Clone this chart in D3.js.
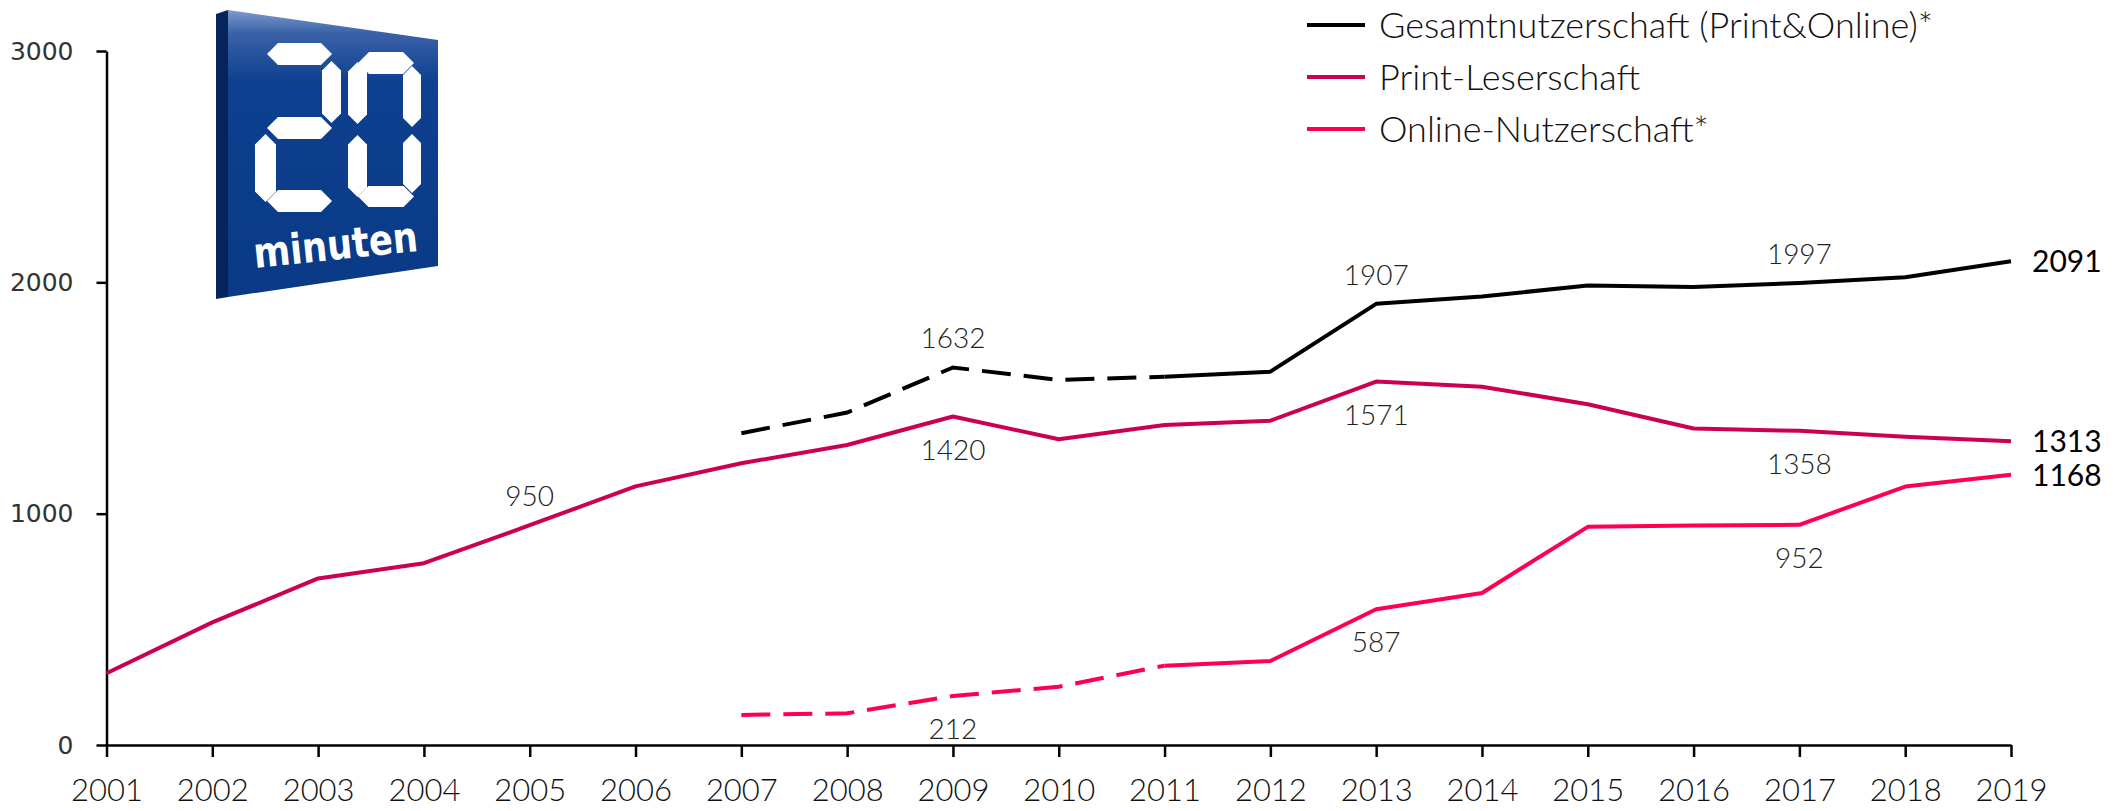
<!DOCTYPE html>
<html>
<head>
<meta charset="utf-8">
<script src="https://cdn.jsdelivr.net/npm/d3@7"></script>
<style>
  html, body { margin: 0; padding: 0; background: #fff; }
  svg { display: block; }
</style>
</head>
<body>
<div id="chart-area"></div>
<script>
// data
const years = [2001, 2002, 2003, 2004, 2005, 2006, 2007, 2008, 2009, 2010,
               2011, 2012, 2013, 2014, 2015, 2016, 2017, 2018, 2019]
const printValues = [310, 530, 720, 786, 950, 1118, 1218, 1297, 1420, 1322,
                     1383, 1402, 1571, 1549, 1473, 1368, 1358, 1333, 1313]
const totalValues = [null, null, null, null, null, null, 1348, 1437, 1632, 1578,
                     1592, 1614, 1907, 1939, 1986, 1980, 1997, 2022, 2091]
const onlineValues = [null, null, null, null, null, null, 130, 137, 212, 252,
                      343, 363, 587, 657, 943, 949, 952, 1117, 1168]
const dashedUntil = 2011   // older values of total / online are estimated (dashed)
const yTicks = [0, 1000, 2000, 3000]
const seriesNames = ["Gesamtnutzerschaft (Print&Online)*", "Print-Leserschaft", "Online-Nutzerschaft*"]

// which values get a label, above or below the line
const labelsAbove = { total: [2009, 2013, 2017], print: [2005], online: [] }
const labelsBelow = { total: [], print: [2009, 2013, 2017], online: [2009, 2013, 2017] }

const colors = { total: "#000000", print: "#cc0052", online: "#ff0050" }

function drawChart() {
    const svgWidth = 2113
    const svgHeight = 811
    const margin = { left: 106.5, right: 102, top: 51, bottom: 66 }

    const svg = d3.select("#chart-area")
        .append("svg")
        .attr("width", svgWidth)
        .attr("height", svgHeight)

    const x = d3.scaleLinear()
        .domain([years[0], years[years.length - 1]])
        .range([margin.left, svgWidth - margin.right])
    const y = d3.scaleLinear()
        .domain([0, 3000])
        .range([svgHeight - margin.bottom, margin.top])

    drawLogo(svg)

    // axes
    const yAxis = svg.append("g")
        .attr("transform", `translate(${margin.left},0)`)
        .call(d3.axisLeft(y).tickValues(yTicks).tickFormat(d3.format("d"))
              .tickSize(10).tickSizeOuter(0).tickPadding(23))
    yAxis.selectAll("path, line").attr("stroke", "#000").attr("stroke-width", 2.5)
    yAxis.selectAll("text")
        .attr("font-family", "DejaVu Sans")
        .attr("font-size", 25)
        .attr("fill", "#333")

    const xAxis = svg.append("g")
        .attr("transform", `translate(0,${y(0)})`)
        .call(d3.axisBottom(x).tickValues(years).tickFormat(d3.format("d"))
              .tickSize(12).tickSizeOuter(0).tickPadding(22))
    xAxis.selectAll("path, line").attr("stroke", "#000").attr("stroke-width", 2.5)
    xAxis.selectAll("text")
        .attr("font-family", "Lato")
        .attr("font-weight", 300)
        .attr("font-size", 31)
        .attr("fill", "#111")

    // lines
    const rows = years.map((yr, i) => ({
        year: yr, print: printValues[i], total: totalValues[i], online: onlineValues[i]
    }))
    const keys = ["total", "print", "online"]

    keys.forEach(key => {
        const pts = rows.filter(d => d[key] != null)
        const line = d3.line().x(d => x(d.year)).y(d => y(d[key]))
        const hasDashed = key !== "print"
        const dashedPart = hasDashed ? pts.filter(d => d.year <= dashedUntil) : []
        const solidPart = hasDashed ? pts.filter(d => d.year >= dashedUntil) : pts

        if (dashedPart.length > 1) {
            svg.append("path")
                .datum(dashedPart)
                .attr("d", line)
                .attr("fill", "none")
                .attr("stroke", colors[key])
                .attr("stroke-width", 4)
                .attr("stroke-dasharray", "29,13")
        }
        svg.append("path")
            .datum(solidPart)
            .attr("d", line)
            .attr("fill", "none")
            .attr("stroke", colors[key])
            .attr("stroke-width", 4)
            .attr("stroke-linejoin", "round")
    })

    // value labels
    const valueOf = (key, yr) => rows.find(d => d.year === yr)[key]
    keys.forEach(key => {
        labelsAbove[key].forEach(yr => {
            svg.append("text")
                .attr("x", x(yr))
                .attr("y", y(valueOf(key, yr)) - 19)
                .attr("text-anchor", "middle")
                .attr("font-family", "Lato").attr("font-weight", 300)
                .attr("font-size", 28).attr("fill", "#222")
                .text(valueOf(key, yr))
        })
        labelsBelow[key].forEach(yr => {
            svg.append("text")
                .attr("x", x(yr))
                .attr("y", y(valueOf(key, yr)) + 43)
                .attr("text-anchor", "middle")
                .attr("font-family", "Lato").attr("font-weight", 300)
                .attr("font-size", 28).attr("fill", "#222")
                .text(valueOf(key, yr))
        })
        // end label
        const last = rows[rows.length - 1]
        svg.append("text")
            .attr("x", x(last.year) + 21)
            .attr("y", y(last[key]))
            .attr("dy", "0.36em")
            .attr("font-family", "Lato")
            .attr("font-size", 30)
            .attr("fill", "#000")
            .text(last[key])
    })

    // legend
    const legend = svg.append("g").attr("transform", "translate(1307,25)")
    keys.forEach((key, i) => {
        const g = legend.append("g").attr("transform", `translate(0,${i * 52})`)
        g.append("line")
            .attr("x1", 0).attr("x2", 58)
            .attr("stroke", colors[key]).attr("stroke-width", 4)
        g.append("text")
            .attr("x", 72)
            .attr("dy", "0.36em")
            .attr("font-family", "Lato").attr("font-weight", 300)
            .attr("font-size", 36).attr("fill", "#111")
            .text(seriesNames[i])
    })
}

// 20 minuten logo (decoration, not data)
function drawLogo(svg) {
    const defs = svg.append("defs")
    const grad = defs.append("linearGradient")
        .attr("id", "logoBlue").attr("x1", 0).attr("y1", 0).attr("x2", 0).attr("y2", 1)
    grad.append("stop").attr("offset", "0%").attr("stop-color", "#7f9bcc")
    grad.append("stop").attr("offset", "8%").attr("stop-color", "#3a62a8")
    grad.append("stop").attr("offset", "25%").attr("stop-color", "#0d4090")
    grad.append("stop").attr("offset", "100%").attr("stop-color", "#0a3a86")

    const g = svg.append("g")
    const pts = p => p.map(q => q.join(",")).join(" ")

    g.append("polygon")
        .attr("points", pts([[216, 14], [228, 10], [228, 297], [216, 299]]))
        .attr("fill", "#06245c")
    g.append("polygon")
        .attr("points", pts([[228, 10], [438, 40], [438, 266], [228, 297]]))
        .attr("fill", "url(#logoBlue)")

    const hbar = (x0, y0, w, h) => {
        const c = h / 2
        return [[x0 + c, y0], [x0 + w - c, y0], [x0 + w, y0 + c], [x0 + w - c, y0 + h], [x0 + c, y0 + h], [x0, y0 + c]]
    }
    const vbar = (x0, y0, w, h) => {
        const c = w / 2
        return [[x0, y0 + c], [x0 + c, y0], [x0 + w, y0 + c], [x0 + w, y0 + h - c], [x0 + c, y0 + h], [x0, y0 + h - c]]
    }
    const segments = [
        hbar(267, 43, 65, 22), vbar(322, 61, 19, 62), hbar(267, 117, 65, 22),
        vbar(255, 134, 21, 68), hbar(267, 190, 65, 22),
        hbar(358, 52, 56, 22), vbar(348, 62, 19, 62), vbar(403, 66, 18, 61),
        vbar(348, 135, 19, 62), vbar(403, 134, 18, 59), hbar(358, 186, 56, 21)
    ]
    segments.forEach(s => {
        g.append("polygon").attr("points", pts(s)).attr("fill", "#fff")
    })
    g.append("text")
        .attr("x", 255).attr("y", 268)
        .attr("transform", "rotate(-6 255 268)")
        .attr("font-family", "DejaVu Sans")
        .attr("font-weight", "bold")
        .attr("font-size", 42)
        .attr("fill", "#fff")
        .attr("textLength", 165)
        .attr("lengthAdjust", "spacingAndGlyphs")
        .text("minuten")
}

drawChart()
</script>
</body>
</html>
